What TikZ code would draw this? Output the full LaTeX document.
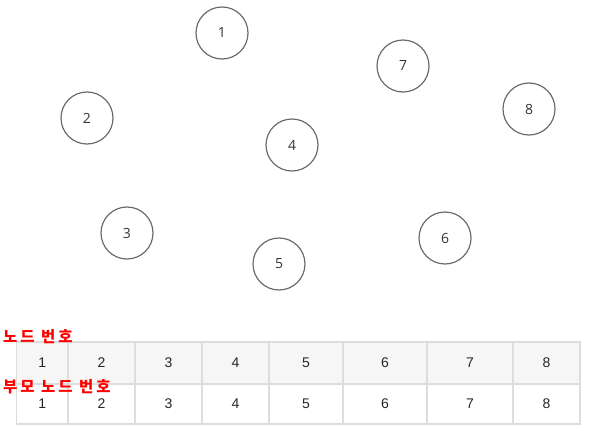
\documentclass[tikz,border=0pt]{standalone}
\usepackage{fontspec}
\setmainfont{Liberation Sans}
\newfontfamily\circfont{Open Sans}
\newfontfamily\kofont[LetterSpace=19]{Noto Sans CJK KR}
\usepackage{tikz}

\begin{document}
\begin{tikzpicture}[x=1pt,y=-1pt]
\tikzset{v/.style={circle,draw=black!58,line width=1.2pt,minimum size=52pt,inner sep=0pt,font=\circfont\fontsize{14}{16}\selectfont,text=black!80},
  cell/.style={inner sep=0pt,font=\fontsize{14}{16}\selectfont,text=black!85},
  lbl/.style={anchor=base west,inner sep=0pt,text=red,font=\kofont\bfseries\fontsize{15.5}{17}\selectfont}}
\definecolor{gridc}{HTML}{DDDDDD}
\definecolor{headc}{HTML}{F6F6F6}
\useasboundingbox (0,0) rectangle (592,431);

% nodes
\node[v] (1) at (222,33)  {1};
\node[v] (2) at (87,118)  {2};
\node[v] (3) at (127,233) {3};
\node[v] (4) at (292,145) {4};
\node[v] (5) at (279,264) {5};
\node[v] (6) at (445,238) {6};
\node[v] (7) at (403,66)  {7};
\node[v] (8) at (529,109) {8};

% table
\fill[headc] (16.7,342) rectangle (580,384);
\draw[gridc,line width=1.2pt] (16.7,342) rectangle (580,424);
\draw[gridc,line width=1.2pt] (16.7,384) -- (580,384);
\draw[gridc,line width=1.2pt] (68,342) -- (68,424);
\draw[gridc,line width=1.2pt] (135,342) -- (135,424);
\draw[gridc,line width=1.2pt] (202,342) -- (202,424);
\draw[gridc,line width=1.2pt] (269,342) -- (269,424);
\draw[gridc,line width=1.2pt] (343,342) -- (343,424);
\draw[gridc,line width=1.2pt] (427,342) -- (427,424);
\draw[gridc,line width=1.2pt] (513,342) -- (513,424);

\node[cell] (a1) at (42.3,363) {1};
\node[cell] (a2) at (101.5,363) {2};
\node[cell] (a3) at (168.5,363) {3};
\node[cell] (a4) at (235.5,363) {4};
\node[cell] (a5) at (306,363) {5};
\node[cell] (a6) at (385,363) {6};
\node[cell] (a7) at (470,363) {7};
\node[cell] (a8) at (546.5,363) {8};
\node[cell] (p1) at (42.3,404) {1};
\node[cell] (p2) at (101.5,404) {2};
\node[cell] (p3) at (168.5,404) {3};
\node[cell] (p4) at (235.5,404) {4};
\node[cell] (p5) at (306,404) {5};
\node[cell] (p6) at (385,404) {6};
\node[cell] (p7) at (470,404) {7};
\node[cell] (p8) at (546.5,404) {8};

\node[lbl] (num) at (3,342.5) {노드 번호};
\node[lbl] (par) at (3,392.5) {부모 노드 번호};
\end{tikzpicture}
\end{document}
